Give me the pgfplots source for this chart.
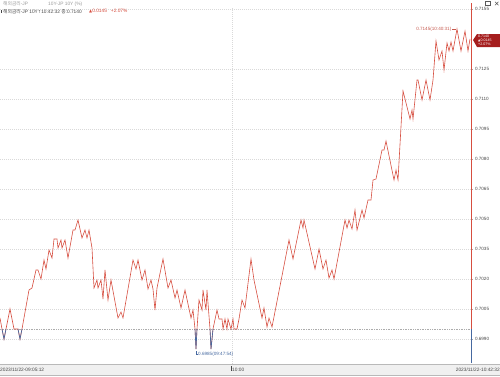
\documentclass[border=0pt]{standalone}
\usepackage{pgfplots}
\pgfplotsset{compat=1.18}
\usepackage{fontspec}
\setmainfont{Liberation Sans}
\newfontfamily\kr{Noto Sans CJK KR}
\newfontfamily\djv{DejaVu Sans}
\definecolor{lred}{RGB}{214,78,64}
\definecolor{lblue}{RGB}{70,105,160}
\definecolor{boxred}{RGB}{165,30,30}
\definecolor{txt}{RGB}{70,70,70}
\begin{document}
\begin{tikzpicture}
\useasboundingbox (0,0) rectangle (500pt,376pt);
\begin{axis}[
  at={(0pt,13pt)}, anchor=south west,
  scale only axis, width=471pt, height=356pt,
  xmin=0, xmax=471, ymin=0.6978, ymax=0.7156,
  axis line style={draw=none},
  xtick={232}, xticklabels={},
  xmajorgrids, ymajorgrids,
  grid style={dash pattern=on 0.5pt off 1.5pt, gray!30, line width=0.4pt},
  ytick={0.6990,0.7005,0.7020,0.7035,0.7050,0.7065,0.7080,0.7095,0.7110,0.7125,0.7155},
  yticklabel pos=right,
  minor y tick num=2,
  tick align=outside,
  major tick length=2pt, minor tick length=1.2pt,
  x tick style={draw=none},
  y tick style={gray!70, line width=0.3pt},
  yticklabel style={font=\fontsize{4.6}{5}\selectfont, color=txt, xshift=-1.5pt},
  /pgf/number format/assume math mode=true,
  /pgf/number format/.cd, fixed, fixed zerofill, precision=4,
  /tikz/.cd,
  clip=false,
]
% baseline (previous close)
\addplot[dash pattern=on 0.6pt off 1.1pt, gray!65, line width=0.4pt] coordinates {(0,0.6995) (471,0.6995)};
% right axis line
\addplot[lred, line width=0.8pt] coordinates {(471,0.6995) (471,0.7158)};
\addplot[lblue, line width=0.8pt] coordinates {(471,0.6978) (471,0.6995)};
% price line
\addplot[lred, line width=0.6pt] table {
x y
0 0.70005
2 0.6995
4 0.6990
6 0.6995
10 0.7005
14 0.6995
18 0.6995
20 0.6990
22 0.6995
29 0.70145
32 0.70155
36 0.70245
38 0.70245
41 0.7020
44 0.70295
46 0.7025
49 0.70345
52 0.70305
54 0.7040
57 0.7040
58 0.70355
61 0.70395
62 0.70355
65 0.70395
68 0.70305
73 0.70445
75 0.70445
78 0.70495
82 0.70405
85 0.70445
87 0.70405
89 0.70445
92 0.70355
94 0.70155
97 0.70195
98 0.70155
101 0.70195
103 0.7010
105 0.70245
108 0.70095
111 0.70195
118 0.70005
121 0.70035
123 0.70005
133 0.70295
136 0.7025
138 0.70295
142 0.70195
145 0.70245
148 0.7015
151 0.70195
153 0.7015
155 0.70045
157 0.70155
163 0.7030
168 0.70155
171 0.70195
175 0.70105
177 0.70145
181 0.70055
185 0.70145
191 0.70005
193 0.70045
195 0.6995
196 0.6985
197 0.6995
199 0.70095
202 0.70045
203 0.70145
206 0.70045
207 0.70145
210 0.6995
211 0.6985
213 0.6995
217 0.70045
219 0.7000
222 0.7000
223 0.6995
225 0.7000
227 0.6995
228 0.7000
231 0.6995
233 0.7000
234 0.6995
237 0.6995
239 0.7000
242 0.70095
245 0.70055
251 0.7030
254 0.70195
262 0.70005
264 0.70055
267 0.6996
269 0.70005
272 0.6996
289 0.70395
293 0.7030
301 0.70495
303 0.70455
304 0.70495
315 0.7025
319 0.7035
323 0.7025
326 0.70295
329 0.70205
332 0.70245
334 0.7020
345 0.70495
347 0.70455
349 0.70495
352 0.7045
355 0.70545
357 0.70445
362 0.70545
364 0.70505
368 0.70595
371 0.70595
373 0.70695
376 0.7070
382 0.70845
384 0.70845
386 0.7089
394 0.70695
396 0.70745
398 0.70695
403 0.7114
410 0.7100
412 0.71045
413 0.7100
417 0.71195
418 0.71195
422 0.71095
426 0.71195
430 0.71095
433 0.71195
436 0.7139
439 0.71295
442 0.7134
444 0.71245
447 0.7138
449 0.7134
451 0.71385
453 0.7134
457 0.7145
461 0.7134
465 0.7144
468 0.7134
470 0.7140
};
% below previous close: blue
\addplot[lblue, line width=0.65pt] coordinates {(2,0.6995) (4,0.6990) (6,0.6995)};
\addplot[lblue, line width=0.65pt] coordinates {(18,0.6995) (20,0.6990) (22,0.6995)};
\addplot[lblue, line width=0.65pt] coordinates {(195,0.6995) (196,0.6985) (197,0.6995)};
\addplot[lblue, line width=0.65pt] coordinates {(210,0.6995) (211,0.6985) (213,0.6995)};
% annotations
\draw[lred!80!gray, line width=0.3pt] (axis cs:452,0.7145) -- (axis cs:456,0.7145);
\node[anchor=east, inner sep=0pt, text=lred!80!gray, font=\fontsize{4.6}{5}\selectfont] at (axis cs:451.5,0.7145) {0.7145(10:40:31)};
\draw[lblue, line width=0.3pt] (axis cs:196,0.6984) |- (axis cs:198,0.69825);
\node[anchor=west, inner sep=0pt, text=lblue, font=\fontsize{4.6}{5}\selectfont] at (axis cs:198,0.69825) {0.6985(09:47:54)};
\end{axis}
\begin{scope}[x=1pt,y=-1pt,yshift=376pt]
% header
\node[anchor=west, inner sep=0pt, text=gray!80, font=\fontsize{4.8}{5}\selectfont] at (3,4) {{\kr 해외금리}-JP};
\node[anchor=west, inner sep=0pt, text=gray!80, font=\fontsize{4.8}{5}\selectfont] at (48,4) {10Y-JP 10Y (\%)};
\fill[txt] (1,10) rectangle (2,13);
\node[anchor=west, inner sep=0pt, text=txt, font=\fontsize{4.8}{5}\selectfont] at (3,11.5) {{\kr 해외금리}-JP 10Y{\djv\fontsize{4}{5}\selectfont↑}10:42:32 {\kr 종}:0.7140};
\node[anchor=west, inner sep=0pt, text=lred, font=\fontsize{4.8}{5}\selectfont] at (89,11.5) {{\djv\fontsize{4}{5}\selectfont ▲}0.0145 \ \ +2.07\%};
% top right icons
\draw[gray!70!black, line width=0.4pt] (485.5,1.5) rectangle (490,5.5);
\draw[gray!70!black, line width=0.5pt] (495,1.8) -- (498.5,5.3) (498.5,1.8) -- (495,5.3);
% right price box
\fill[boxred] (473,40) -- (477,34) -- (500,34) -- (500,47) -- (477,47) -- cycle;
\node[anchor=west, inner sep=0pt, text=white, align=left, font=\fontsize{3.6}{4.1}\selectfont] at (478,40.5) {0.7140\\{\djv\fontsize{3}{4}\selectfont ▲}0.0145\\+2.07\%};
% bottom axis band
\fill[gray!12] (0,364) rectangle (500,376);
\draw[gray!55, line width=0.6pt] (0,364.3) -- (500,364.3);
\draw[gray!55, line width=0.4pt] (0,375.6) -- (500,375.6);
\node[anchor=west, inner sep=0pt, text=txt, font=\fontsize{4.8}{5}\selectfont] at (0,369.8) {2023/11/22-09:05:12};
\draw[txt, line width=0.3pt] (231,366) -- (231,371);
\node[anchor=west, inner sep=0pt, text=txt, font=\fontsize{4.8}{5}\selectfont] at (232,369.8) {10:00};
\node[anchor=east, inner sep=0pt, text=txt, font=\fontsize{4.8}{5}\selectfont] at (500,369.8) {2023/11/22-10:42:32};
\end{scope}
\end{tikzpicture}
\end{document}
